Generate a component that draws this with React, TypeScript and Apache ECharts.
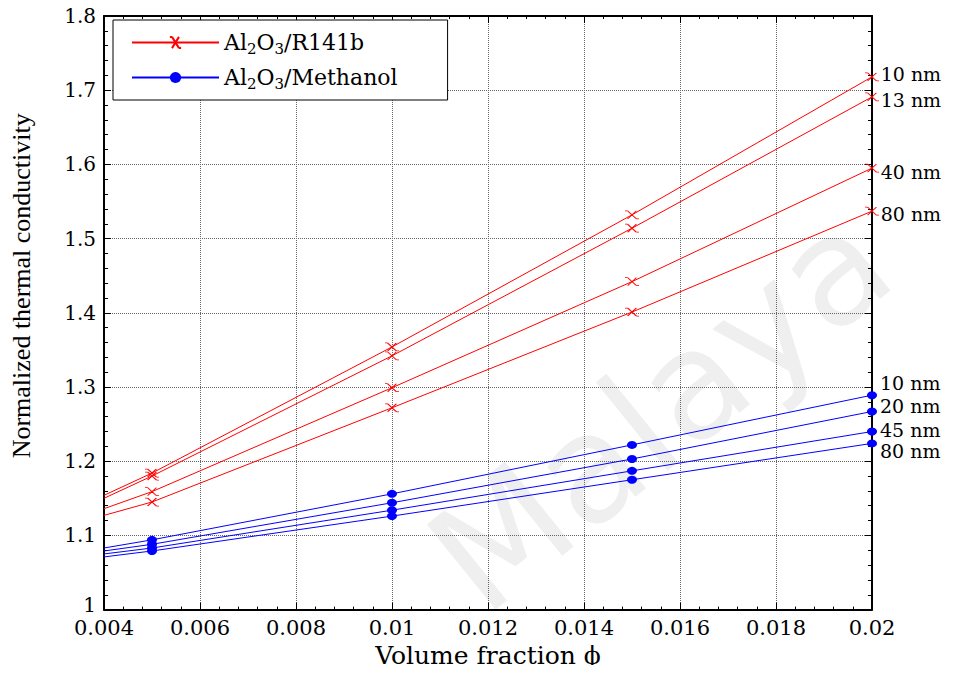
import React, { useEffect, useRef } from 'react';
import * as echarts from 'echarts';

const SERIF = '"DejaVu Serif", serif';
const TIMES = '"Liberation Serif", "Times New Roman", serif';

// Volume fraction values (x)
const volumeFraction = [0.004, 0.005, 0.01, 0.015, 0.02];

// Al2O3/R141b, particle sizes
const r141bSizes = ['10 nm', '13 nm', '40 nm', '80 nm'];
const r141b10 = [1.154, 1.184, 1.354, 1.532, 1.718];
const r141b13 = [1.15, 1.18, 1.342, 1.514, 1.691];
const r141b40 = [1.136, 1.159, 1.299, 1.442, 1.595];
const r141b80 = [1.127, 1.145, 1.272, 1.401, 1.537];

// Al2O3/Methanol, particle sizes
const methanolSizes = ['10 nm', '20 nm', '45 nm', '80 nm'];
const methanol10 = [1.083, 1.094, 1.156, 1.222, 1.289];
const methanol20 = [1.079, 1.088, 1.144, 1.203, 1.267];
const methanol45 = [1.075, 1.083, 1.134, 1.187, 1.24];
const methanol80 = [1.071, 1.079, 1.126, 1.175, 1.224];

const xTicks = { min: 0.004, max: 0.02, interval: 0.002 };
const yTicks = { min: 1, max: 1.8, interval: 0.1 };

// style: vertical label nudges for the right-hand size labels
const r141bLabelOffsets = [-3, 3, 4, 3];
const methanolLabelOffsets = [-12, -5, -2, 8];

const CROSS = 'path://M-3,0L0,0M0,0L10,8M10,0L0,8M10,8L13,8';

function buildSeries(
  name: string,
  values: number[],
  sizeLabel: string,
  color: string,
  symbol: string,
  symbolSize: number | number[],
  strokeSymbol: boolean,
  labelOffset: number,
  labelDistance: number
) {
  return {
    type: 'line',
    name,
    clip: false,
    symbol,
    symbolSize,
    color,
    lineStyle: { color, width: 1 },
    itemStyle: {
      color: strokeSymbol ? 'rgba(0,0,0,0)' : color,
      borderColor: color,
      borderWidth: strokeSymbol ? 1 : 0,
    },
    emphasis: { disabled: true },
    z: 3,
    data: values.map((v, i) => {
      const item: any = { value: [volumeFraction[i], v] };
      if (i === 0) item.symbol = 'none';
      if (i === values.length - 1) {
        item.label = {
          show: true,
          position: 'right',
          distance: labelDistance,
          offset: [0, labelOffset],
          formatter: sizeLabel,
          color: '#000',
          fontFamily: SERIF,
          fontSize: 19,
          lineHeight: 17,
        };
      }
      return item;
    }),
  };
}

const fmt = (v: number) => String(parseFloat(v.toFixed(4)));
const fmtY = (v: number) => (Math.abs(v - 1) < 1e-9 ? '{m|1}' : fmt(v));

export default function App() {
  const ref = useRef<HTMLDivElement>(null);

  useEffect(() => {
    if (!ref.current) return;
    const chart = echarts.init(ref.current, undefined, { renderer: 'svg' });

    const RED = '#ff0000';
    const BLUE = '#0000ff';
    const red = [r141b10, r141b13, r141b40, r141b80].map((vals, i) =>
      buildSeries('Al2O3/R141b', vals, r141bSizes[i], RED, CROSS, [14, 8], true, r141bLabelOffsets[i], 1)
    );
    const blue = [methanol10, methanol20, methanol45, methanol80].map((vals, i) =>
      buildSeries('Al2O3/Methanol', vals, methanolSizes[i], BLUE, 'circle', [10, 8], false, methanolLabelOffsets[i], 3)
    );

    const axisLine = { show: true, onZero: false, lineStyle: { color: '#000', width: 2 } };

    const option: any = {
      animation: false,
      backgroundColor: '#fff',
      grid: { left: 104, right: 97, top: 16, bottom: 59, containLabel: false },
      graphic: {
        elements: [
          {
            type: 'text',
            x: 660,
            y: 410,
            rotation: 0.68,
            z: -10,
            silent: true,
            style: {
              text: 'Malaya',
              fontSize: 150,
              fontFamily: '"DejaVu Sans", sans-serif',
              fill: '#efefef',
              align: 'center',
              verticalAlign: 'middle',
            },
          },
        ],
      },
      legend: {
        data: ['Al2O3/R141b', 'Al2O3/Methanol'],
        orient: 'vertical',
        left: 113,
        top: 20,
        padding: [9, 50, 9, 18],
        itemGap: 8,
        itemWidth: 87,
        itemHeight: 14,
        backgroundColor: '#fff',
        borderColor: '#000',
        borderWidth: 1,
        borderRadius: 0,
        selectedMode: false,
        formatter: (name: string) =>
          name === 'Al2O3/R141b'
            ? '{a|Al}{s|2}{a|O}{s|3}{a|/R141b}'
            : '{a|Al}{s|2}{a|O}{s|3}{a|/Methanol}',
        textStyle: {
          color: '#000',
          rich: {
            a: { fontFamily: SERIF, fontSize: 22, color: '#000', lineHeight: 30 },
            s: { fontFamily: SERIF, fontSize: 15, color: '#000', padding: [12, 0, 0, 0], lineHeight: 30 },
          },
        },
      },
      xAxis: [
        {
          type: 'value',
          position: 'bottom',
          ...xTicks,
          name: 'Volume fraction ϕ',
          nameLocation: 'middle',
          nameGap: 33,
          nameTextStyle: { fontFamily: SERIF, fontSize: 25, color: '#000' },
          axisLine,
          axisTick: { show: true, inside: true, length: 7, lineStyle: { color: '#000', width: 1 } },
          minorTick: { show: true, splitNumber: 5, length: 3, lineStyle: { color: '#000', width: 1 } },
          axisLabel: { fontFamily: SERIF, fontSize: 21, lineHeight: 16, color: '#000', margin: 10, formatter: fmt },
          splitLine: { show: true, lineStyle: { color: '#666', type: 'dotted', width: 1 } },
        },
        {
          type: 'value',
          position: 'top',
          ...xTicks,
          axisLine,
          axisTick: { show: true, inside: true, length: 7, lineStyle: { color: '#000', width: 1 } },
          minorTick: { show: true, splitNumber: 5, length: 3, lineStyle: { color: '#000', width: 1 } },
          axisLabel: { show: false },
          splitLine: { show: false },
        },
      ],
      yAxis: [
        {
          type: 'value',
          position: 'left',
          ...yTicks,
          name: 'Normalized thermal conductivity',
          nameLocation: 'middle',
          nameGap: 70,
          nameTextStyle: { fontFamily: TIMES, fontSize: 26, color: '#000', padding: [0, 0, 0, 54] },
          axisLine,
          axisTick: { show: true, inside: true, length: 7, lineStyle: { color: '#000', width: 1 } },
          minorTick: { show: true, splitNumber: 5, length: 4, lineStyle: { color: '#000', width: 1 } },
          axisLabel: {
            fontFamily: SERIF,
            fontSize: 20,
            lineHeight: 14,
            color: '#000',
            margin: 8,
            formatter: fmtY,
            rich: { m: { fontFamily: SERIF, fontSize: 20, color: '#000', padding: [0, 0, 10, 0] } },
          },
          splitLine: { show: true, lineStyle: { color: '#666', type: 'dotted', width: 1 } },
        },
        {
          type: 'value',
          position: 'right',
          ...yTicks,
          axisLine,
          axisTick: { show: true, inside: true, length: 7, lineStyle: { color: '#000', width: 1 } },
          minorTick: { show: true, splitNumber: 5, length: 4, lineStyle: { color: '#000', width: 1 } },
          axisLabel: { show: false },
          splitLine: { show: false },
        },
      ],
      series: [...red, ...blue],
    };

    chart.setOption(option);
    return () => chart.dispose();
  }, []);

  return <div ref={ref} style={{ width: 969, height: 673, margin: '-8px' }} />;
}
